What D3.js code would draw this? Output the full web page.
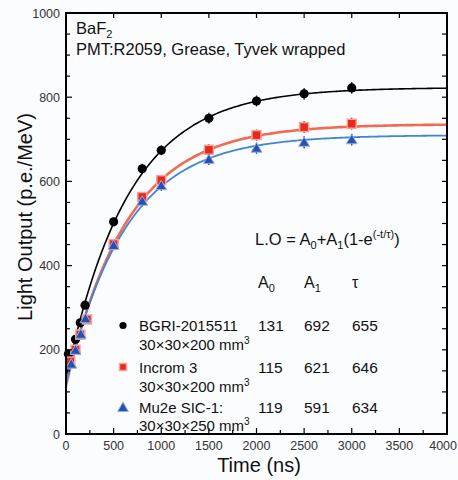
<!DOCTYPE html>
<html>
<head>
<meta charset="utf-8">
<script src="https://cdn.jsdelivr.net/npm/d3@7"></script>
<style>
  body { margin: 0; background: #fbfcfe; }
  svg { display: block; font-family: "Liberation Sans", Arial, sans-serif; }
</style>
</head>
<body>
<svg id="chart" width="458" height="480"></svg>
<script>
// measured points (time in ns, light output in p.e./MeV)
var times_bgri   = [ 25, 100, 150, 200, 500, 800, 1000, 1500, 2000, 2500, 3000 ];
var lo_bgri      = [ 190, 225, 264, 306, 504, 630, 674, 750, 791, 808, 822 ];
var times_incrom = [ 45, 100, 150, 220, 500, 800, 1000, 1500, 2000, 2500, 3000 ];
var lo_incrom    = [ 172, 200, 236, 272, 451, 563, 603, 675, 710, 729, 737 ];
var times_mu2e   = [ 55, 100, 155, 205, 500, 800, 1000, 1500, 2000, 2500, 3000 ];
var lo_mu2e      = [ 166, 199, 237, 274, 448, 553, 590, 652, 679, 693, 699 ];
var err_points   = [ 0, 0, 0, 0, 10, 12, 12, 13, 13, 14, 14 ];

// fit parameters printed on the chart
var fit_a0  = [ 131, 115, 119 ];
var fit_a1  = [ 692, 621, 591 ];
var fit_tau = [ 655, 646, 634 ];

var legend_names = [ "BGRI-2015511", "Incrom 3", "Mu2e SIC-1:" ];
var legend_sizes = [ "30\u00d730\u00d7200 mm", "30\u00d730\u00d7200 mm", "30\u00d730\u00d7250 mm" ];

var x_ticks = [ 0, 500, 1000, 1500, 2000, 2500, 3000, 3500, 4000 ];
var y_ticks = [ 0, 200, 400, 600, 800, 1000 ];

var MARGIN = { left: 66, right: 11, top: 13, bottom: 46 };
var W = 458, H = 480;

var svg = d3.select( "#chart" );

var x = d3.scaleLinear().domain( [ 0, 4000 ] ).range( [ MARGIN.left, W - MARGIN.right ] );
var y = d3.scaleLinear().domain( [ 0, 1000 ] ).range( [ H - MARGIN.bottom, MARGIN.top ] );

var series = [
  { t: times_bgri,   v: lo_bgri,   line: "#000000", lw: 1.6, fill: "#000000", halo: "#333333", shape: "circle" },
  { t: times_incrom, v: lo_incrom, line: "#f36a52", lw: 2.6, fill: "#e8281f", halo: "#f7a497", shape: "square" },
  { t: times_mu2e,   v: lo_mu2e,   line: "#3f86d6", lw: 1.8, fill: "#2c4fae", halo: "#8fb0e8", shape: "triangle" }
];

// fit curves
var t_samples = d3.range( 0, 4001, 20 );
var line = d3.line().x( function( d ){ return x( d[ 0 ] ); } ).y( function( d ){ return y( d[ 1 ] ); } );

series.forEach( function( s, i ){
  var pts = t_samples.map( function( t ){
    return [ t, fit_a0[ i ] + fit_a1[ i ] * ( 1 - Math.exp( -t / fit_tau[ i ] ) ) ];
  } );
  svg.append( "path" )
    .attr( "d", line( pts ) )
    .attr( "fill", "none" )
    .attr( "stroke", s.line )
    .attr( "stroke-width", s.lw );
} );

function drawMarker( g, shape, cx, cy, s ){
  if( shape == "circle" ){
    g.append( "circle" ).attr( "cx", cx ).attr( "cy", cy ).attr( "r", 4.6 )
      .attr( "fill", s.fill );
  } else if( shape == "square" ){
    g.append( "rect" ).attr( "x", cx - 4.5 ).attr( "y", cy - 4.5 ).attr( "width", 9 ).attr( "height", 9 )
      .attr( "fill", s.fill ).attr( "stroke", s.halo ).attr( "stroke-width", 1.5 );
  } else {
    var r = 5.4;
    g.append( "path" )
      .attr( "d", "M" + cx + "," + ( cy - r ) + "L" + ( cx + r ) + "," + ( cy + r * 0.75 ) + "L" + ( cx - r ) + "," + ( cy + r * 0.75 ) + "Z" )
      .attr( "fill", s.fill ).attr( "stroke", s.halo ).attr( "stroke-width", 1 );
  }
}

// error bars + markers
series.forEach( function( s ){
  var g = svg.append( "g" );
  s.t.forEach( function( t, j ){
    var e = err_points[ j ];
    if( e > 0 ){
      g.append( "line" )
        .attr( "x1", x( t ) ).attr( "x2", x( t ) )
        .attr( "y1", y( s.v[ j ] - e ) ).attr( "y2", y( s.v[ j ] + e ) )
        .attr( "stroke", "#111" ).attr( "stroke-width", 1.2 );
    }
    drawMarker( g, s.shape, x( t ), y( s.v[ j ] ), s );
  } );
} );

// frame
svg.append( "rect" )
  .attr( "x", MARGIN.left ).attr( "y", MARGIN.top )
  .attr( "width", W - MARGIN.left - MARGIN.right )
  .attr( "height", H - MARGIN.top - MARGIN.bottom )
  .attr( "fill", "none" ).attr( "stroke", "#000" ).attr( "stroke-width", 2 );

// ticks (inward)
var ax = svg.append( "g" ).attr( "stroke", "#000" ).attr( "stroke-width", 1.2 );
d3.range( 0, 4001, 250 ).forEach( function( t ){
  var len = ( t % 500 == 0 ) ? 6 : 4;
  ax.append( "line" ).attr( "x1", x( t ) ).attr( "x2", x( t ) ).attr( "y1", y( 0 ) ).attr( "y2", y( 0 ) - len );
  if( t % 500 == 0 )
    ax.append( "line" ).attr( "x1", x( t ) ).attr( "x2", x( t ) ).attr( "y1", y( 1000 ) ).attr( "y2", y( 1000 ) + 5 );
} );
d3.range( 0, 1001, 50 ).forEach( function( v ){
  var len = ( v % 200 == 0 ) ? 6 : 4;
  ax.append( "line" ).attr( "x1", x( 0 ) ).attr( "x2", x( 0 ) + len ).attr( "y1", y( v ) ).attr( "y2", y( v ) );
  ax.append( "line" ).attr( "x1", x( 4000 ) ).attr( "x2", x( 4000 ) - 5 ).attr( "y1", y( v ) ).attr( "y2", y( v ) );
} );

// tick labels (last one pulled in so it stays on the page)
svg.append( "g" ).selectAll( "text" ).data( x_ticks ).enter().append( "text" )
  .attr( "x", function( d ){ return d == 4000 ? W - 1 : x( d ); } )
  .attr( "y", 450 )
  .attr( "text-anchor", function( d ){ return d == 4000 ? "end" : "middle"; } )
  .attr( "font-size", 12.5 )
  .attr( "fill", "#333" )
  .text( function( d ){ return d; } );

svg.append( "g" ).selectAll( "text" ).data( y_ticks ).enter().append( "text" )
  .attr( "x", 60 )
  .attr( "y", function( d ){ return y( d ) + 4.5; } )
  .attr( "text-anchor", "end" )
  .attr( "font-size", 12.5 )
  .attr( "fill", "#333" )
  .text( function( d ){ return d; } );

// axis titles
svg.append( "text" )
  .attr( "x", 259 ).attr( "y", 472 )
  .attr( "text-anchor", "middle" )
  .attr( "font-size", 20 )
  .attr( "fill", "#111" )
  .text( "Time (ns)" );

svg.append( "text" )
  .attr( "transform", "translate(31.5," + 217 + ") rotate(-90)" )
  .attr( "text-anchor", "middle" )
  .attr( "font-size", 20 )
  .attr( "fill", "#111" )
  .text( "Light Output (p.e./MeV)" );

// header text
var t1 = svg.append( "text" ).attr( "x", 76 ).attr( "y", 34 ).attr( "font-size", 16.5 ).attr( "fill", "#111" );
t1.append( "tspan" ).text( "BaF" );
t1.append( "tspan" ).attr( "dy", 4 ).attr( "font-size", 11 ).text( "2" );

svg.append( "text" ).attr( "x", 76 ).attr( "y", 55 ).attr( "font-size", 16.5 ).attr( "fill", "#111" )
  .text( "PMT:R2059, Grease, Tyvek wrapped" );

// fit equation
var eq = svg.append( "text" ).attr( "x", 255 ).attr( "y", 245 ).attr( "font-size", 16.5 ).attr( "fill", "#111" );
eq.append( "tspan" ).text( "L.O = A" );
eq.append( "tspan" ).attr( "dy", 4 ).attr( "font-size", 11 ).text( "0" );
eq.append( "tspan" ).attr( "dy", -4 ).text( "+A" );
eq.append( "tspan" ).attr( "dy", 4 ).attr( "font-size", 11 ).text( "1" );
eq.append( "tspan" ).attr( "dy", -4 ).text( "(1-e" );
eq.append( "tspan" ).attr( "dy", -7 ).attr( "font-size", 11 ).text( "(-t/\u03c4)" );
eq.append( "tspan" ).attr( "dy", 7 ).text( ")" );

// table header
var cols = [ 258, 304, 352 ];
var hdr = [ [ "A", "0" ], [ "A", "1" ], [ "\u03c4", "" ] ];
hdr.forEach( function( h, i ){
  var tx = svg.append( "text" ).attr( "x", cols[ i ] ).attr( "y", 288 ).attr( "font-size", 16 ).attr( "fill", "#111" );
  tx.append( "tspan" ).text( h[ 0 ] );
  if( h[ 1 ] ) tx.append( "tspan" ).attr( "dy", 4 ).attr( "font-size", 11 ).text( h[ 1 ] );
} );

// table rows + legend
var row_y = [ 331, 372.5, 413 ];
var size_y = [ 349.5, 391.5, 431 ];
series.forEach( function( s, i ){
  [ fit_a0[ i ], fit_a1[ i ], fit_tau[ i ] ].forEach( function( v, c ){
    svg.append( "text" ).attr( "x", cols[ c ] ).attr( "y", row_y[ i ] )
      .attr( "font-size", 15.5 ).attr( "fill", "#111" ).text( v );
  } );

  var lg = svg.append( "g" );
  var ms = { fill: s.fill, halo: s.halo };
  drawMarker( lg, s.shape, 123, row_y[ i ] - 5.5, ms );
  lg.select( "circle" ).attr( "r", 3.6 );
  lg.select( "rect" ).attr( "x", 119.5 ).attr( "y", row_y[ i ] - 9 ).attr( "width", 7 ).attr( "height", 7 );

  svg.append( "text" ).attr( "x", 139 ).attr( "y", row_y[ i ] )
    .attr( "font-size", 15 ).attr( "fill", "#111" ).text( legend_names[ i ] );
  var sz = svg.append( "text" ).attr( "x", 139 ).attr( "y", size_y[ i ] )
    .attr( "font-size", 15 ).attr( "fill", "#111" );
  sz.append( "tspan" ).text( legend_sizes[ i ] );
  sz.append( "tspan" ).attr( "dy", -6 ).attr( "font-size", 10 ).text( "3" );
} );
</script>
</body>
</html>
